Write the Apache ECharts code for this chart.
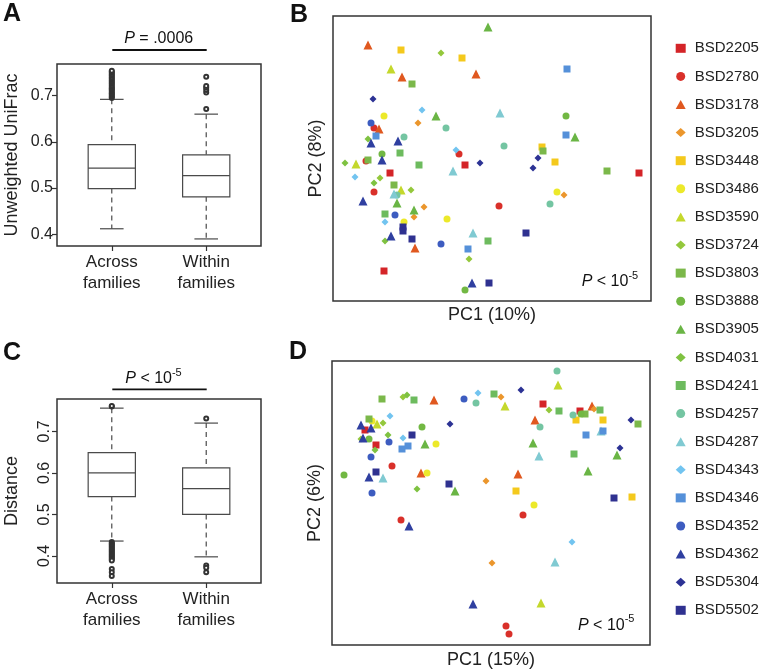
<!DOCTYPE html>
<html>
<head>
<meta charset="utf-8">
<script src="https://cdn.jsdelivr.net/npm/echarts@6/dist/echarts.min.js"></script>
<style>
html, body { margin: 0; padding: 0; background: #fff; }
#main { width: 761px; height: 672px; }
</style>
</head>
<body>
<div id="main"></div>
<script>
var FONT = 'Liberation Sans, Arial, sans-serif';

// families (legend)
var families = ['BSD2205', 'BSD2780', 'BSD3178', 'BSD3205', 'BSD3448', 'BSD3486', 'BSD3590',
  'BSD3724', 'BSD3803', 'BSD3888', 'BSD3905', 'BSD4031', 'BSD4241', 'BSD4257', 'BSD4287',
  'BSD4343', 'BSD4346', 'BSD4352', 'BSD4362', 'BSD5304', 'BSD5502'];

// box plots: [lower whisker, Q1, median, Q3, upper whisker]
var boxCats = ['Across\nfamilies', 'Within\nfamilies'];
var unifracBox = [[0.412, 0.499, 0.543, 0.594, 0.692], [0.390, 0.481, 0.527, 0.572, 0.660]];
var unifracOutAcross = [0.695, 0.697, 0.700, 0.703, 0.705, 0.708, 0.711, 0.714, 0.716, 0.719, 0.722,
  0.725, 0.728, 0.731, 0.734, 0.737, 0.740, 0.743, 0.746, 0.749, 0.752, 0.754];
var unifracOutWithin = [0.671, 0.707, 0.712, 0.717, 0.721, 0.741];
var distanceBox = [[0.436, 0.543, 0.600, 0.649, 0.756], [0.398, 0.500, 0.562, 0.612, 0.720]];
var distanceOutAcross = [0.760, 0.761, 0.434, 0.431, 0.428, 0.425, 0.422, 0.419, 0.416, 0.413, 0.410,
  0.407, 0.404, 0.401, 0.398, 0.395, 0.392, 0.389, 0.369, 0.361, 0.352];
var distanceOutWithin = [0.731, 0.377, 0.372, 0.361];

// PCoA points: [family index, PC1, PC2] (units, no scale shown)
var pcoaB = [
  [10,155,274],[2,35,256],[4,68,251],[7,108,248],[4,129,243],[6,58,232],[2,69,224],[2,143,227],
  [8,79,217],[19,40,202],[15,89,191],[5,51,185],[10,103,185],[14,167,188],[17,38,178],[3,85,178],
  [1,41,173],[2,46,172],[13,113,173],[16,43,165],[13,71,164],[11,35,162],[18,38,158],[18,65,160],
  [13,171,155],[15,123,151],[1,126,147],[9,49,147],[12,67,148],[8,35,141],[11,12,138],[6,23,137],
  [1,33,140],[18,49,141],[12,86,136],[0,132,136],[19,147,138],[14,120,130],[15,22,124],[0,57,128],
  [7,47,123],[11,41,118],[8,61,116],[6,68,111],[14,61,107],[13,64,106],[7,78,111],[1,41,109],
  [18,30,100],[10,64,98],[10,81,91],[3,91,94],[3,81,84],[1,166,95],[12,52,87],[17,62,86],
  [5,71,79],[20,70,74],[20,70,70],[5,114,82],[15,52,79],[18,58,65],[11,52,60],[20,79,62],
  [2,82,53],[17,108,57],[14,140,68],[12,155,60],[16,135,52],[7,136,42],[0,51,30],[18,139,18],
  [20,156,18],[9,132,11],[16,234,232],[9,233,185],[16,233,166],[10,242,164],[4,209,154],[8,210,150],
  [19,205,143],[19,200,133],[4,222,139],[8,274,130],[0,306,128],[5,224,109],[3,231,106],[13,217,97],
  [20,193,68]
];
var pcoaD = [
  [8,50,246],[7,71,248],[11,75,250],[12,82,245],[2,102,245],[17,132,246],[15,146,252],[13,144,242],
  [12,162,251],[3,169,248],[6,173,239],[8,37,226],[5,40,224],[6,45,221],[7,51,222],[15,58,229],
  [18,29,220],[18,39,217],[0,33,215],[9,90,218],[19,118,221],[11,56,210],[20,80,210],[15,71,207],
  [17,57,203],[16,70,196],[16,76,199],[10,93,201],[5,104,201],[18,31,207],[7,29,206],[9,37,206],
  [0,44,200],[11,43,195],[17,39,188],[1,60,179],[9,12,170],[18,37,168],[20,44,173],[14,51,167],
  [2,89,172],[5,95,172],[20,117,161],[10,123,154],[11,85,156],[17,40,152],[3,154,164],[1,69,125],
  [18,77,119],[3,160,82],[18,141,41],[1,174,19],[1,177,11],[6,209,42],[14,223,83],[15,240,103],
  [1,191,130],[5,202,140],[4,184,154],[20,282,147],[4,300,148],[13,225,274],[6,226,260],[19,189,255],
  [0,211,241],[7,217,235],[12,227,234],[2,203,225],[13,208,218],[10,201,202],[14,207,189],[13,241,230],
  [0,248,234],[9,249,231],[8,253,231],[2,260,239],[3,262,236],[12,268,235],[4,244,225],[4,271,225],
  [16,254,210],[14,269,214],[16,271,214],[19,299,225],[8,306,221],[12,242,191],[19,288,197],[10,285,190],
  [10,256,174],[2,186,171]
];

// marker style per family
var familyColors = ['#d42428', '#d9302a', '#e0581f', '#eb962c', '#f4c91c', '#ece92a', '#c4d82c',
  '#94c83c', '#7bb84a', '#72b843', '#6ab545', '#7fc241', '#6dbb5e', '#74c5a2', '#80cad2',
  '#72c4f0', '#5590d9', '#3d5cc0', '#2f3fa0', '#2c3294', '#2f3190'];
var familySymbols = ['rect', 'circle', 'triangle', 'diamond', 'rect', 'circle', 'triangle',
  'diamond', 'rect', 'circle', 'triangle', 'diamond', 'rect', 'circle', 'triangle',
  'diamond', 'rect', 'circle', 'triangle', 'diamond', 'rect'];
var symbolSizes = { rect: 7, circle: 7, triangle: 9, diamond: 7 };

var chart = echarts.init(document.getElementById('main'));

// box + whiskers drawn through the axis scale
function renderBox(params, api) {
  var x = api.value(0);
  var lo = api.coord([x, api.value(1)]);
  var q1 = api.coord([x, api.value(2)]);
  var md = api.coord([x, api.value(3)]);
  var q3 = api.coord([x, api.value(4)]);
  var hi = api.coord([x, api.value(5)]);
  var half = api.size([0.25, 0])[0];
  var cap = half / 2;
  var cx = md[0];
  var solid = { stroke: '#4a4a4a', lineWidth: 1.2 };
  var dash = { stroke: '#4a4a4a', lineWidth: 1.2, lineDash: [5, 4] };
  return {
    type: 'group',
    children: [
      { type: 'line', shape: { x1: cx, y1: hi[1], x2: cx, y2: q3[1] }, style: dash },
      { type: 'line', shape: { x1: cx, y1: q1[1], x2: cx, y2: lo[1] }, style: dash },
      { type: 'line', shape: { x1: cx - cap, y1: hi[1], x2: cx + cap, y2: hi[1] }, style: solid },
      { type: 'line', shape: { x1: cx - cap, y1: lo[1], x2: cx + cap, y2: lo[1] }, style: solid },
      { type: 'rect', shape: { x: cx - half, y: q3[1], width: half * 2, height: q1[1] - q3[1] },
        style: { fill: '#fff', stroke: '#4a4a4a', lineWidth: 1.2 } },
      { type: 'line', shape: { x1: cx - half, y1: md[1], x2: cx + half, y2: md[1] }, style: solid }
    ]
  };
}

function boxXAxis(gi) {
  return {
    gridIndex: gi, type: 'value', min: 0.42, max: 2.58,
    axisLine: { show: false }, splitLine: { show: false },
    axisTick: { customValues: [1, 2], length: 5, lineStyle: { color: '#333', width: 1.2 } },
    axisLabel: {
      customValues: [1, 2], margin: 6, fontSize: 17, lineHeight: 21, color: '#222', fontFamily: FONT,
      formatter: function (v) { return boxCats[Math.round(v) - 1]; }
    }
  };
}

function boxYAxis(gi, min, max, name, rot) {
  return {
    gridIndex: gi, type: 'value', min: min, max: max,
    axisLine: { show: false }, splitLine: { show: false },
    axisTick: { customValues: [0.4, 0.5, 0.6, 0.7], length: 5, lineStyle: { color: '#333', width: 1.2 } },
    axisLabel: {
      customValues: [0.4, 0.5, 0.6, 0.7], margin: 4, fontSize: 16, color: '#222', fontFamily: FONT,
      rotate: rot, formatter: function (v) { return v.toFixed(1); }
    },
    name: name, nameLocation: 'middle', nameRotate: 90, nameGap: 36,
    nameTextStyle: { fontSize: 18, color: '#222', fontFamily: FONT }
  };
}

function pcXAxis(gi, name, gap) {
  return {
    gridIndex: gi, type: 'value', min: 0, max: 318,
    axisLine: { show: false }, axisTick: { show: false }, axisLabel: { show: false }, splitLine: { show: false },
    name: name, nameLocation: 'middle', nameGap: gap,
    nameTextStyle: { fontSize: 18, color: '#222', fontFamily: FONT, verticalAlign: 'top' }
  };
}

function pcYAxis(gi, max, name, gap) {
  return {
    gridIndex: gi, type: 'value', min: 0, max: max,
    axisLine: { show: false }, axisTick: { show: false }, axisLabel: { show: false }, splitLine: { show: false },
    name: name, nameLocation: 'middle', nameRotate: 90, nameGap: gap,
    nameTextStyle: { fontSize: 18, color: '#222', fontFamily: FONT }
  };
}

function outlierData(list, x) {
  return list.map(function (v) { return [x, v]; });
}

var frame = { show: true, borderColor: '#333', borderWidth: 1.5, backgroundColor: 'transparent' };

var series = [
  { type: 'custom', xAxisIndex: 0, yAxisIndex: 0, renderItem: renderBox, z: 2,
    encode: { x: 0, y: [1, 2, 3, 4, 5] },
    data: unifracBox.map(function (b, i) { return [i + 1].concat(b); }) },
  { type: 'scatter', xAxisIndex: 0, yAxisIndex: 0, symbol: 'emptyCircle', symbolSize: 4, z: 3,
    itemStyle: { color: '#333', borderWidth: 0.9, opacity: 1 },
    data: outlierData(unifracOutAcross, 1).concat(outlierData(unifracOutWithin, 2)) },
  { type: 'custom', xAxisIndex: 1, yAxisIndex: 1, renderItem: renderBox, z: 2,
    encode: { x: 0, y: [1, 2, 3, 4, 5] },
    data: distanceBox.map(function (b, i) { return [i + 1].concat(b); }) },
  { type: 'scatter', xAxisIndex: 1, yAxisIndex: 1, symbol: 'emptyCircle', symbolSize: 4, z: 3,
    itemStyle: { color: '#333', borderWidth: 0.9, opacity: 1 },
    data: outlierData(distanceOutAcross, 1).concat(outlierData(distanceOutWithin, 2)) }
];

families.forEach(function (name, i) {
  [[2, pcoaB], [3, pcoaD]].forEach(function (p) {
    series.push({
      type: 'scatter', name: name, xAxisIndex: p[0], yAxisIndex: p[0],
      symbol: familySymbols[i], symbolSize: symbolSizes[familySymbols[i]],
      itemStyle: { color: familyColors[i], opacity: 1 },
      data: p[1].filter(function (d) { return d[0] === i; }).map(function (d) { return [d[1], d[2]]; })
    });
  });
});

var richBase = function (size) {
  return {
    i: { fontStyle: 'italic', fontSize: size, lineHeight: 24, fontFamily: FONT, fill: '#111' },
    t: { fontSize: size, lineHeight: 24, fontFamily: FONT, fill: '#111' },
    s: { fontSize: 11, lineHeight: 12, fontFamily: FONT, fill: '#111', verticalAlign: 'top' }
  };
};

function label(text, x, y, size, opts) {
  opts = opts || {};
  return {
    type: 'text', x: x, y: y, silent: true,
    style: {
      text: text, fill: '#111', fontSize: size, fontFamily: FONT,
      fontWeight: opts.bold ? 'bold' : 'normal',
      textAlign: opts.align || 'left', textVerticalAlign: 'middle',
      rich: richBase(size)
    }
  };
}

var option = {
  animation: false,
  backgroundColor: '#fff',
  textStyle: { fontFamily: FONT },
  grid: [
    Object.assign({ left: 57, top: 64, width: 204, height: 182 }, frame),
    Object.assign({ left: 57, top: 399, width: 204, height: 184 }, frame),
    Object.assign({ left: 333, top: 16, width: 318, height: 285 }, frame),
    Object.assign({ left: 332, top: 361, width: 318, height: 284 }, frame)
  ],
  xAxis: [
    boxXAxis(0),
    boxXAxis(1),
    pcXAxis(2, 'PC1 (10%)', 5),
    pcXAxis(3, 'PC1 (15%)', 6)
  ],
  yAxis: [
    boxYAxis(0, 0.3747, 0.7685, 'Unweighted UniFrac', 0),
    boxYAxis(1, 0.335, 0.778, 'Distance', 90),
    pcYAxis(2, 285, 'PC2 (8%)', 8),
    pcYAxis(3, 284, 'PC2 (6%)', 8)
  ],
  legend: {
    orient: 'vertical', left: 675.7, top: 40.3, padding: 0,
    itemWidth: 10, itemHeight: 9, itemGap: 12.1, selectedMode: false, symbolKeepAspect: true,
    textStyle: { fontSize: 15, lineHeight: 16, color: '#222', fontFamily: FONT, padding: [0, 0, 0, 4] },
    data: families
  },
  graphic: [
    label('A', 3, 14.5, 25, { bold: true }),
    label('B', 290, 15, 25, { bold: true }),
    label('C', 3, 353, 25, { bold: true }),
    label('D', 289, 352, 25, { bold: true }),
    label('{i|P}{t| = .0006}', 158.7, 38.3, 16, { align: 'center' }),
    { type: 'line', silent: true, shape: { x1: 112.3, y1: 50, x2: 206.7, y2: 50 },
      style: { stroke: '#111', lineWidth: 1.8 } },
    label('{i|P}{t| < 10}{s|-5}', 153.5, 379, 16, { align: 'center' }),
    { type: 'line', silent: true, shape: { x1: 112.3, y1: 389.3, x2: 206.7, y2: 389.3 },
      style: { stroke: '#111', lineWidth: 1.8 } },
    label('{i|P}{t| < 10}{s|-5}', 581.7, 282, 16),
    label('{i|P}{t| < 10}{s|-5}', 578, 625.7, 16)
  ],
  series: series
};

chart.setOption(option);
</script>
</body>
</html>
